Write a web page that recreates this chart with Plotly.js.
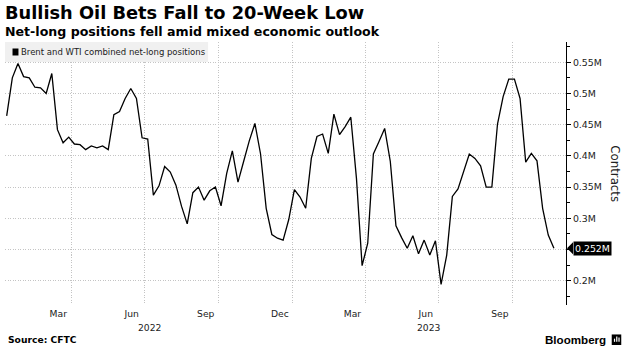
<!DOCTYPE html>
<html><head><meta charset="utf-8">
<script src="https://cdn.plot.ly/plotly-3.0.1.min.js"></script>
<style>html,body{margin:0;padding:0;background:#fff}</style>
</head><body><div id="chart" style="width:628px;height:351px"></div>
<script>
// Weekly CFTC data, first report week
const startDate = '2022-01-11';
// Brent and WTI combined net-long positions, million contracts (weekly)
const netLong = [
  0.464, 0.525, 0.548, 0.527, 0.525, 0.510, 0.509, 0.500, 0.532, 0.442,
  0.421, 0.430, 0.419, 0.418, 0.410, 0.416, 0.413, 0.416, 0.410, 0.466,
  0.471, 0.492, 0.508, 0.492, 0.429, 0.427, 0.337, 0.352, 0.383, 0.374,
  0.353, 0.319, 0.291, 0.341, 0.350, 0.329, 0.344, 0.350, 0.320, 0.372,
  0.408, 0.358, 0.391, 0.424, 0.452, 0.403, 0.316, 0.274, 0.268, 0.265,
  0.298, 0.346, 0.334, 0.316, 0.396, 0.431, 0.435, 0.404, 0.467, 0.434,
  0.447, 0.462, 0.364, 0.224, 0.260, 0.403, 0.423, 0.444, 0.391, 0.288,
  0.269, 0.252, 0.272, 0.243, 0.265, 0.241, 0.264, 0.194, 0.241, 0.335,
  0.347, 0.375, 0.403, 0.396, 0.384, 0.350, 0.350, 0.451, 0.495, 0.523,
  0.523, 0.492, 0.390, 0.404, 0.392, 0.316, 0.273, 0.252
];
const seriesName = 'Brent and WTI combined net-long positions';
const titleText = 'Bullish Oil Bets Fall to 20-Week Low';
const subtitleText = 'Net-long positions fell amid mixed economic outlook';
const sourceText = 'Source: CFTC';
const yTitle = 'Contracts';

const monthLabelDates = ['2022-03-16','2022-06-15','2022-09-15','2022-12-16','2023-03-16','2023-06-15','2023-09-15'];
const monthLabels = ['Mar','Jun','Sep','Dec','Mar','Jun','Sep'];
const gridDates = ['2022-04-01','2022-07-01','2022-10-01','2023-01-01','2023-04-01','2023-07-01','2023-10-01'];
const yearLabelDates = ['2022-07-07','2023-06-19'];
const yearLabels = ['2022','2023'];
const yTickVals = [0.2, 0.25, 0.3, 0.35, 0.4, 0.45, 0.5, 0.55];
const yTickText = ['0.2M', '', '0.3M', '0.35M', '0.4M', '0.45M', '0.5M', '0.55M'];

const t0 = Date.parse(startDate + 'T00:00:00Z');
const dates = netLong.map((_, i) => new Date(t0 + i * 7 * 864e5).toISOString().slice(0, 10));
const last = netLong[netLong.length - 1];

const FONT = 'DejaVu Sans';
const annotations = [
  {text: '<b>' + titleText + '</b>', xref: 'paper', yref: 'paper', x: -0.0035, y: 1.113, xanchor: 'left', yanchor: 'middle', showarrow: false, font: {family: FONT, size: 17.8, color: '#000'}},
  {text: '<b>' + subtitleText + '</b>', xref: 'paper', yref: 'paper', x: -0.0035, y: 1.04, xanchor: 'left', yanchor: 'middle', showarrow: false, font: {family: FONT, size: 12.6, color: '#000'}},
  {text: seriesName, xref: 'paper', yref: 'paper', x: 0.0245, y: 0.962, xanchor: 'left', yanchor: 'middle', showarrow: false, font: {family: FONT, size: 8.5, color: '#222'}},
  {text: yTitle, xref: 'paper', yref: 'paper', x: 1.087, y: 0.498, textangle: 90, xanchor: 'center', yanchor: 'middle', showarrow: false, font: {family: FONT, size: 11.8, color: '#222'}},
  {text: '<b>' + sourceText + '</b>', xref: 'paper', yref: 'paper', x: 0.002, y: -0.133, xanchor: 'left', yanchor: 'middle', showarrow: false, font: {family: FONT, size: 9.2, color: '#000'}},
  {text: '<b>Bloomberg</b>', xref: 'paper', yref: 'paper', x: 1.074, y: -0.13, xanchor: 'right', yanchor: 'middle', showarrow: false, font: {family: 'Liberation Sans', size: 11.6, color: '#000'}},
  {text: last.toFixed(3) + 'M', xref: 'paper', yref: 'y', x: 1, y: last, xshift: 7, xanchor: 'left', yanchor: 'middle', showarrow: false, bgcolor: '#000', borderpad: 1, font: {family: FONT, size: 9.4, color: '#fff'}}
];
yearLabels.forEach((t, k) => annotations.push({text: t, xref: 'x', yref: 'paper', x: yearLabelDates[k], y: -0.085, xanchor: 'center', yanchor: 'middle', showarrow: false, font: {family: FONT, size: 9.2, color: '#222'}}));

const pxX = 1 / 561, pxY = 0.05 / 31.2;
const shapes = [
  {type: 'rect', xref: 'paper', yref: 'paper', x0: 0, x1: 0.362, y0: 0.924, y1: 1.0, fillcolor: '#f0f0f0', line: {width: 0}, layer: 'above'},
  {type: 'rect', xref: 'paper', yref: 'paper', x0: 0.0134, x1: 0.024, y0: 0.9487, y1: 0.9753, fillcolor: '#000', line: {width: 0}, layer: 'above'},
  {type: 'path', xref: 'paper', yref: 'y', path: `M ${1 + 1*pxX},${last} L ${1 + 7*pxX},${last + 6*pxY} L ${1 + 7*pxX},${last - 6*pxY} Z`, fillcolor: '#000', line: {width: 0}, layer: 'above'},
  {type: 'rect', xref: 'paper', yref: 'paper', x0: 1.0815, x1: 1.0985, y0: -0.152, y1: -0.112, fillcolor: '#000', line: {width: 0}, layer: 'above'},
  {type: 'line', xref: 'paper', yref: 'paper', x0: 1.0865, x1: 1.0865, y0: -0.140, y1: -0.128, line: {color: '#fff', width: 1.2}, layer: 'above'},
  {type: 'line', xref: 'paper', yref: 'paper', x0: 1.0905, x1: 1.0905, y0: -0.140, y1: -0.120, line: {color: '#fff', width: 1.2}, layer: 'above'},
  {type: 'line', xref: 'paper', yref: 'paper', x0: 1.0945, x1: 1.0945, y0: -0.140, y1: -0.124, line: {color: '#fff', width: 1.2}, layer: 'above'}
];

const trace = {type: 'scatter', mode: 'lines', name: seriesName, x: dates, y: netLong, line: {color: '#000', width: 1.3}, hoverinfo: 'skip'};

const layout = {
  width: 628, height: 351,
  margin: {l: 5, r: 62, t: 42, b: 46},
  paper_bgcolor: '#fff', plot_bgcolor: '#fff',
  showlegend: false,
  font: {family: FONT, size: 9.2, color: '#222'},
  xaxis: {
    type: 'date', range: ['2022-01-08 22:00', '2023-12-06'],
    tickmode: 'array', tickvals: monthLabelDates, ticktext: monthLabels,
    ticks: '', showgrid: false, zeroline: false, showline: false,
    ticklabelstandoff: 2,
    tickfont: {family: FONT, size: 9.2, color: '#222'},
    minor: {tickmode: 'array', tickvals: gridDates, showgrid: true, gridcolor: '#c4c4c4', griddash: '1px,1.5px', gridwidth: 1, ticks: ''}
  },
  yaxis: {
    side: 'right', range: [0.161, 0.5825],
    tickmode: 'array', tickvals: yTickVals, ticktext: yTickText,
    ticks: 'outside', ticklen: 4, tickcolor: '#000', tickwidth: 1,
    showline: true, linecolor: '#000', linewidth: 1,
    showgrid: true, gridcolor: '#c4c4c4', griddash: '1px,1.5px', gridwidth: 1,
    zeroline: false,
    tickfont: {family: FONT, size: 9.4, color: '#222'},
    minor: {tickmode: 'linear', tick0: 0, dtick: 0.025, ticks: 'outside', ticklen: 3, tickcolor: '#000', showgrid: false}
  },
  annotations: annotations,
  shapes: shapes
};

Plotly.newPlot('chart', [trace], layout, {staticPlot: true, displayModeBar: false});
</script>
</body></html>
